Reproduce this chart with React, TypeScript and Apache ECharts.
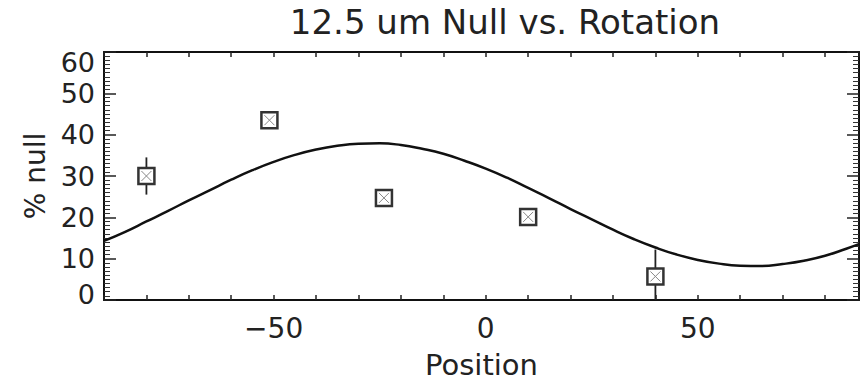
import React, { useEffect, useRef } from "react";
import * as echarts from "echarts";

// Measured points (position, % null, error)
const pointX = [-80, -51, -24, 10, 40];
const pointY = [30, 43.5, 24.7, 20.1, 5.7];
const pointErr = [4.5, 1.5, 1.5, 1.5, 6.5];

// Fitted curve
const curveX = [-90, -85, -80, -75, -70, -65, -60, -55, -50, -45, -40, -35, -30, -25, -20, -15, -10, -5, 0, 5, 10, 15, 20, 25, 30, 35, 40, 45, 50, 55, 60, 65, 70, 75, 80, 85, 88];
const curveY = [14.3, 16.5, 19.0, 21.5, 24.1, 26.6, 29.1, 31.4, 33.4, 35.1, 36.4, 37.3, 37.8, 37.9, 37.5, 36.6, 35.4, 33.7, 31.8, 29.6, 27.1, 24.6, 22.0, 19.5, 17.0, 14.7, 12.7, 11.0, 9.7, 8.8, 8.3, 8.2, 8.7, 9.5, 10.7, 12.4, 13.5];

const xTickLabels = [-50, 0, 50];
const title = "12.5 um Null vs. Rotation";
const xName = "Position";
const yName = "% null";

const FONT = "DejaVu Sans";
const INK = "#222";

export default function App() {
  const ref = useRef<HTMLDivElement>(null);
  useEffect(() => {
    if (!ref.current) return;
    const chart = echarts.init(ref.current, null, { renderer: "svg" });
    const axisLine = { show: true, onZero: false, lineStyle: { color: "#111", width: 2 } };
    const xBase = {
      type: "value" as const,
      min: -90,
      max: 88,
      interval: 10,
      splitLine: { show: false },
      axisLine,
    };
    const yBase = {
      type: "value" as const,
      min: 0,
      max: 60,
      interval: 10,
      splitLine: { show: false },
      axisLine,
      minorTick: { show: true, splitNumber: 10, length: 6, lineStyle: { color: "#333", width: 1 } },
    };
    chart.setOption({
      animation: false,
      backgroundColor: "#fff",
      title: {
        text: title,
        left: 500,
        top: 0,
        textAlign: "center",
        textStyle: { fontFamily: FONT, fontSize: 34, fontWeight: "normal", color: INK },
      },
      grid: { left: 104, right: 4, top: 52, bottom: 81 },
      xAxis: [
        {
          ...xBase,
          position: "bottom",
          axisTick: { show: true, inside: true, length: 5, lineStyle: { color: "#222", width: 1.5 } },
          axisLabel: {
            margin: 14,
            fontFamily: FONT,
            fontSize: 28,
            color: INK,
            formatter: (v: number) =>
              xTickLabels.includes(v) ? (v < 0 ? "\u2212" + Math.abs(v) : String(v)) : "",
          },
          name: xName,
          nameLocation: "middle",
          nameGap: 50,
          nameTextStyle: { fontFamily: FONT, fontSize: 29, color: INK, verticalAlign: "top" },
        },
        {
          ...xBase,
          position: "top",
          axisTick: { show: true, inside: true, length: 5, lineStyle: { color: "#222", width: 1.5 } },
          axisLabel: { show: false },
        },
      ],
      yAxis: [
        {
          ...yBase,
          position: "left",
          axisTick: { show: true, inside: true, length: 12, lineStyle: { color: "#222", width: 1.5 } },
          axisLabel: {
            margin: 9,
            fontFamily: FONT,
            fontSize: 27,
            color: INK,
            formatter: (v: number) => (v === 60 ? "{t|60}" : v === 0 ? "{b|0}" : String(v)),
            rich: {
              t: { fontFamily: FONT, fontSize: 27, color: INK, padding: [20, 0, 0, 0] },
              b: { fontFamily: FONT, fontSize: 27, color: INK, padding: [0, 0, 12, 0] },
            },
          },
          name: yName,
          nameLocation: "middle",
          nameGap: 54,
          nameRotate: 90,
          nameTextStyle: { fontFamily: FONT, fontSize: 28, color: INK },
        },
        {
          ...yBase,
          position: "right",
          axisTick: { show: true, inside: true, length: 12, lineStyle: { color: "#222", width: 1.5 } },
          axisLabel: { show: false },
        },
      ],
      series: [
        {
          type: "line",
          xAxisIndex: 0,
          yAxisIndex: 0,
          data: curveX.map((x, i) => [x, curveY[i]]),
          smooth: true,
          showSymbol: false,
          symbol: "none",
          lineStyle: { color: "#111", width: 2.5 },
          z: 3,
        },
        {
          type: "custom",
          xAxisIndex: 0,
          yAxisIndex: 0,
          data: pointX.map((x, i) => [x, pointY[i], pointErr[i]]),
          z: 4,
          renderItem: (params: any, api: any) => {
            const x = api.value(0);
            const y = api.value(1);
            const e = api.value(2);
            const c = api.coord([x, y]);
            const top = api.coord([x, Math.min(60, y + e)]);
            const bot = api.coord([x, Math.max(0, y - e)]);
            const h = 8;
            const inset = 3;
            return {
              type: "group",
              children: [
                {
                  type: "line",
                  shape: { x1: c[0], y1: top[1], x2: c[0], y2: bot[1] },
                  style: { stroke: "#222", lineWidth: 1.8 },
                },
                {
                  type: "rect",
                  shape: { x: c[0] - h, y: c[1] - h, width: 2 * h, height: 2 * h },
                  style: { fill: "#fff", stroke: "#333", lineWidth: 2.5 },
                },
                {
                  type: "line",
                  shape: { x1: c[0] - h + inset, y1: c[1] - h + inset, x2: c[0] + h - inset, y2: c[1] + h - inset },
                  style: { stroke: "#888", lineWidth: 1 },
                },
                {
                  type: "line",
                  shape: { x1: c[0] + h - inset, y1: c[1] - h + inset, x2: c[0] - h + inset, y2: c[1] + h - inset },
                  style: { stroke: "#888", lineWidth: 1 },
                },
              ],
            };
          },
        },
      ],
    });
    return () => chart.dispose();
  }, []);
  return (
    <div
      ref={ref}
      style={{ position: "fixed", left: 0, top: 0, width: 863, height: 384 }}
    />
  );
}
